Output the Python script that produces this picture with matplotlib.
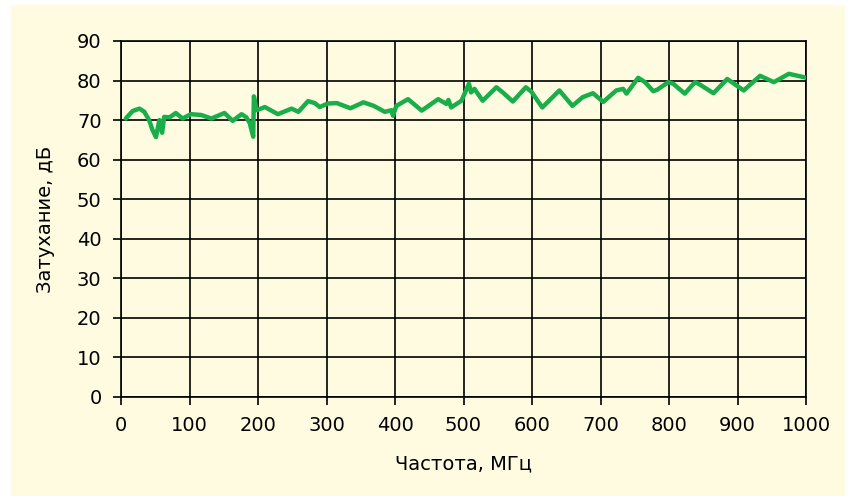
import matplotlib.pyplot as plt
from matplotlib.patches import Rectangle

# Frequency (MHz) and attenuation (dB)
freq = [7, 17, 27, 34, 41, 46, 51, 56, 60, 63, 71, 80, 90, 102, 117, 132, 151,
        163, 176, 183, 188, 193, 194, 198, 210, 229, 249, 259, 273, 283, 290,
        302, 315, 335, 354, 369, 385, 395, 397, 402, 419, 439, 463, 475, 478,
        482, 497, 508, 511, 516, 528, 548, 558, 572, 591, 599, 615, 640, 659,
        674, 689, 704, 723, 733, 738, 755, 765, 777, 783, 799, 806, 823, 838,
        843, 865, 885, 909, 933, 953, 975, 1001]
atten = [70.4, 72.3, 72.9, 72.1, 70.0, 67.5, 65.7, 70.0, 66.8, 70.8, 70.7, 71.8,
         70.4, 71.5, 71.3, 70.4, 71.8, 69.8, 71.5, 70.7, 69.2, 65.8, 76.0, 72.5,
         73.3, 71.5, 72.9, 72.1, 74.8, 74.3, 73.3, 74.2, 74.3, 73.0, 74.5, 73.6,
         72.1, 72.5, 71.1, 73.6, 75.3, 72.4, 75.3, 74.1, 75.1, 73.2, 74.9, 79.2,
         77.0, 77.9, 74.9, 78.3, 76.9, 74.7, 78.3, 77.2, 73.2, 77.5, 73.6, 75.8,
         76.8, 74.6, 77.5, 77.9, 76.7, 80.7, 79.6, 77.3, 77.7, 79.6, 79.2, 76.7,
         79.6, 79.2, 76.8, 80.4, 77.5, 81.2, 79.6, 81.7, 80.7]

x_ticks = list(range(0, 1001, 100))
y_ticks = list(range(0, 91, 10))

bg = '#fefbe0'
line_color = '#1aae4b'

plt.rcParams['font.family'] = ['DejaVu Sans']

fig = plt.figure(figsize=(8.51, 4.96), dpi=100, facecolor='white')
fig.add_artist(Rectangle((11 / 851, 0), (845 - 11) / 851, 1 - 5 / 496,
                         transform=fig.transFigure, facecolor=bg,
                         edgecolor='none', zorder=-10))

ax = fig.add_axes([121 / 851, 1 - 397 / 496, (806 - 121) / 851, (397 - 41) / 496])
ax.set_zorder(1)
ax.set_facecolor(bg)
ax.plot(freq, atten, color=line_color, linewidth=3.2, solid_capstyle='round',
        solid_joinstyle='round', zorder=3)

ax.set_xlim(0, 1000)
ax.set_ylim(0, 90)
ax.set_xticks(x_ticks)
ax.set_yticks(y_ticks)
ax.grid(True, color='black', linewidth=1.2)
for s in ax.spines.values():
    s.set_color('black')
    s.set_linewidth(1.2)
ax.tick_params(axis='both', labelsize=14, length=6, width=1.2, color='black', pad=8)

ax.set_xlabel('Частота, МГц', fontsize=14, labelpad=14)
ax.set_ylabel('Затухание, дБ', fontsize=14, labelpad=16)

fig.savefig('out.png', dpi=100, facecolor=fig.get_facecolor())
